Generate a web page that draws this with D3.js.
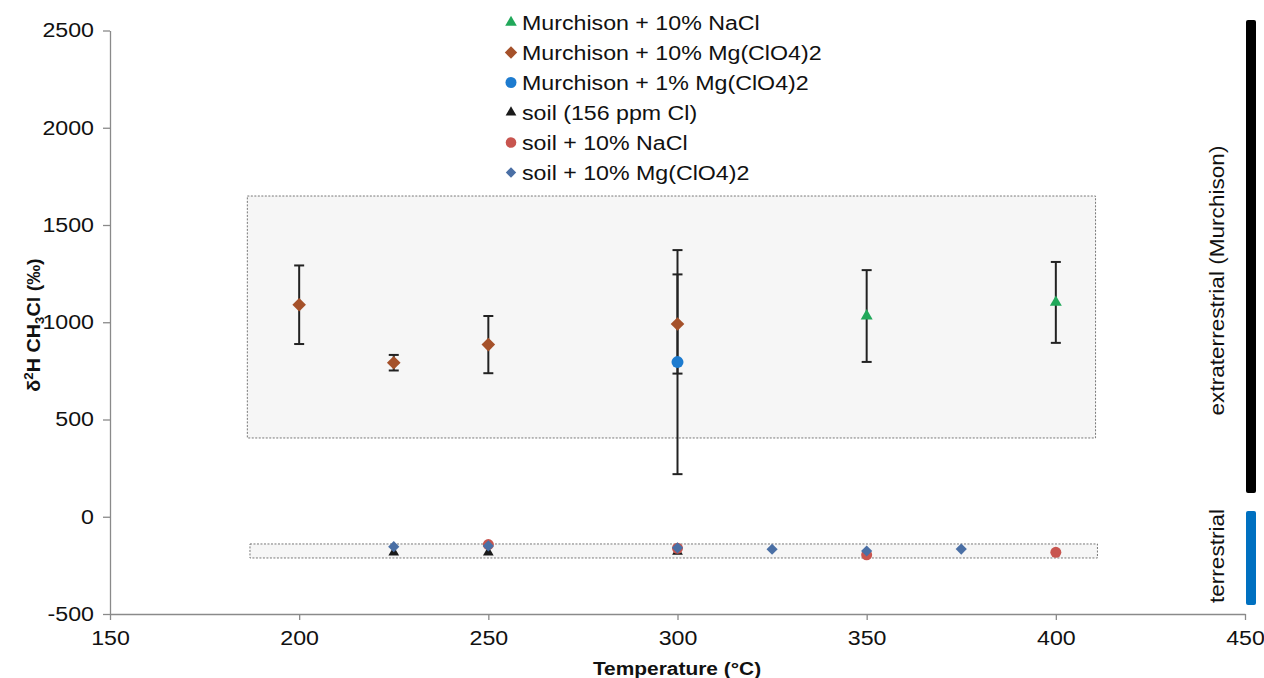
<!DOCTYPE html>
<html>
<head>
<meta charset="utf-8">
<script src="https://cdn.jsdelivr.net/npm/d3@7"></script>
<style>
  body { margin: 0; background: #fff; }
  text { font-family: "Liberation Sans", Arial, sans-serif; fill: #111; }
</style>
</head>
<body>
<div id="chart"></div>
<script>
// axis ticks
var xTicks = [150, 200, 250, 300, 350, 400, 450];
var yTicks = [-500, 0, 500, 1000, 1500, 2000, 2500];

// Murchison series (value +/- error)
var mNaclTemp = [350, 400];
var mNaclVal = [1032, 1102];
var mNaclErr = [236, 208];

var mMg10Temp = [200, 225, 250, 300];
var mMg10Val = [1090, 792, 885, 991];
var mMg10Err = [202, 40, 147, 255];

var mMg1Temp = [300];
var mMg1Val = [795];
var mMg1Err = [576];

// soil series
var soilTemp = [225, 250, 300];
var soilVal = [-183, -183, -180];

var soilNaclTemp = [250, 300, 350, 400];
var soilNaclVal = [-143, -162, -196, -183];

var soilMgTemp = [225, 250, 300, 325, 350, 375];
var soilMgVal = [-154, -150, -160, -167, -176, -166];

var legendNames = ["Murchison + 10% NaCl", "Murchison + 10% Mg(ClO4)2", "Murchison + 1% Mg(ClO4)2",
    "soil (156 ppm Cl)", "soil + 10% NaCl", "soil + 10% Mg(ClO4)2"];

// shaded areas: [xmin, xmax, ymin, ymax]
var boxes = [[186.3, 410.5, 405, 1649], [187, 411, -212, -140]];
// side range bars: [label, ymin, ymax]
var ranges = [["extraterrestrial (Murchison)", 122, 2554], ["terrestrial", -454, 30]];

var width = 1264, height = 678;
var sx = 1.16; // text stretch

var x = d3.scaleLinear().domain([150, 450]).range([110, 1245]);
var y = d3.scaleLinear().domain([-500, 2500]).range([614, 30.5]);

var svg = d3.select("#chart").append("svg")
    .attr("width", width)
    .attr("height", height);

function label(g, px, py, str, size, rot, anchor, bold, stretch) {
    return g.append("text")
        .attr("transform", `translate(${px},${py}) rotate(${rot || 0}) scale(${stretch || sx},1)`)
        .attr("text-anchor", anchor || "start")
        .style("font-size", size + "px")
        .style("font-weight", bold ? "bold" : "normal")
        .text(str);
}

// shaded boxes
svg.append("g").selectAll("rect")
    .data(boxes)
    .enter()
    .append("rect")
    .attr("x", d => x(d[0]))
    .attr("y", d => y(d[3]))
    .attr("width", d => x(d[1]) - x(d[0]))
    .attr("height", d => y(d[2]) - y(d[3]))
    .attr("fill", "#f6f6f6")
    .attr("stroke", "#777")
    .attr("stroke-width", 1)
    .attr("stroke-dasharray", "2,1.5");

// axes
var xAxis = g => g
    .attr("transform", `translate(0,${y(-500)})`)
    .call(d3.axisBottom(x).tickValues(xTicks).tickSize(6).tickSizeOuter(0).tickFormat(d => String(d)));

var yAxis = g => g
    .attr("transform", `translate(${x(150)},0)`)
    .call(d3.axisLeft(y).tickValues(yTicks).tickSize(7).tickSizeOuter(0).tickFormat(d => String(d)));

var gx = svg.append("g").call(xAxis);
var gy = svg.append("g").call(yAxis);

[gx, gy].forEach(g => {
    g.selectAll("path, line").attr("stroke", "#8a8a8a").attr("stroke-width", 1.3);
    g.selectAll("text")
        .style("font-size", "20px")
        .style("font-family", "'Liberation Sans', Arial, sans-serif")
        .attr("fill", "#111");
});
gx.selectAll("text").attr("y", 17).attr("transform", `scale(${sx},1)`);
gy.selectAll("text").attr("x", -16 / sx).attr("transform", `scale(${sx},1)`);

// axis titles
label(svg, 677, 675, "Temperature (°C)", 19, 0, "middle", true, 1.1);

var yTitle = svg.append("text")
    .attr("transform", `translate(40,325) rotate(-90) scale(1.1,1)`)
    .attr("text-anchor", "middle")
    .style("font-size", "18px")
    .style("font-weight", "bold");
yTitle.append("tspan").text("δ");
yTitle.append("tspan").attr("dy", -7).style("font-size", "12px").text("2");
yTitle.append("tspan").attr("dy", 7).text("H CH");
yTitle.append("tspan").attr("dy", 4).style("font-size", "12px").text("3");
yTitle.append("tspan").attr("dy", -4).text("Cl (‰)");

// side range bars
var rangeColors = ["#000000", "#0070c0"];
svg.append("g").selectAll("rect")
    .data(ranges)
    .enter()
    .append("rect")
    .attr("x", 1246)
    .attr("y", d => y(d[2]))
    .attr("width", 10)
    .attr("height", d => y(d[1]) - y(d[2]))
    .attr("rx", 2)
    .attr("fill", (d, i) => rangeColors[i]);

ranges.forEach(d => {
    label(svg, 1224, (y(d[1]) + y(d[2])) / 2 + (d[1] > 0 ? 24 : -2), d[0], 20, -90, "middle", false, 1.13);
});

// series definitions
function zip(t, v, e) {
    return t.map((d, i) => ({ t: d, v: v[i], e: e ? e[i] : 0 }));
}

var triangle = d3.symbol().type(d3.symbolTriangle);
var diamond = s => `M0,${-s}L${s},0L0,${s}L${-s},0Z`;

var series = [
    { data: zip(soilTemp, soilVal), color: "#1a1a1a", shape: "tri", size: 50, lsize: 50 },
    { data: zip(soilNaclTemp, soilNaclVal), color: "#c8554f", shape: "circle", size: 5.5, lsize: 5.3 },
    { data: zip(soilMgTemp, soilMgVal), color: "#4a6fa5", shape: "dia", size: 5.6, lsize: 5.2 },
    { data: zip(mMg10Temp, mMg10Val, mMg10Err), color: "#a5512a", shape: "dia", size: 6.8, lsize: 6.2 },
    { data: zip(mMg1Temp, mMg1Val, mMg1Err), color: "#1d7bcf", shape: "circle", size: 6, lsize: 5.5 },
    { data: zip(mNaclTemp, mNaclVal, mNaclErr), color: "#21a85a", shape: "tri", size: 62, lsize: 58 }
];

// error bars
var errData = series.flatMap(s => s.data.filter(d => d.e > 0));
var eg = svg.append("g").attr("stroke", "#222").attr("stroke-width", 2);
eg.selectAll(".stem")
    .data(errData)
    .enter()
    .append("line")
    .attr("x1", d => x(d.t)).attr("x2", d => x(d.t))
    .attr("y1", d => y(d.v + d.e)).attr("y2", d => y(d.v - d.e));
eg.selectAll(".capTop")
    .data(errData)
    .enter()
    .append("line")
    .attr("x1", d => x(d.t) - 5).attr("x2", d => x(d.t) + 5)
    .attr("y1", d => y(d.v + d.e)).attr("y2", d => y(d.v + d.e));
eg.selectAll(".capBot")
    .data(errData)
    .enter()
    .append("line")
    .attr("x1", d => x(d.t) - 5).attr("x2", d => x(d.t) + 5)
    .attr("y1", d => y(d.v - d.e)).attr("y2", d => y(d.v - d.e));

function marker(g, shape, size, color) {
    if (shape === "circle") {
        return g.append("circle").attr("r", size).attr("fill", color);
    }
    if (shape === "dia") {
        return g.append("path").attr("d", diamond(size)).attr("fill", color);
    }
    return g.append("path").attr("d", triangle.size(size)()).attr("fill", color);
}

// points
series.forEach(s => {
    s.data.forEach(d => {
        var g = svg.append("g").attr("transform", `translate(${x(d.t)},${y(d.v)})`);
        marker(g, s.shape, s.size, s.color);
    });
});

// legend (order as in reference)
var legendOrder = [5, 3, 4, 0, 1, 2];
var legend = svg.append("g");
legendOrder.forEach((si, i) => {
    var s = series[si];
    var cy = 22.5 + i * 30;
    var g = legend.append("g").attr("transform", `translate(511,${cy})`);
    marker(g, s.shape, s.lsize, s.color);
    label(legend, 522, cy + 7, legendNames[i], 20, 0, "start", false);
});
</script>
</body>
</html>
